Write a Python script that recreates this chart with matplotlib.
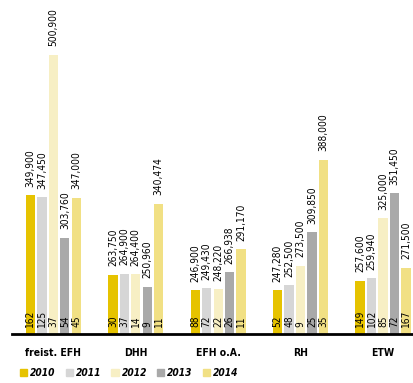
import numpy as np
import matplotlib.pyplot as plt
from matplotlib.patches import Patch

plt.rcParams['font.family'] = ['DejaVu Sans']
plt.rcParams['font.stretch'] = 'condensed'

# data
categories = ["freist. EFH", "DHH", "EFH o.A.", "RH", "ETW"]
years = ["2010", "2011", "2012", "2013", "2014"]
prices = {
    "2010": [349900, 263750, 246900, 247280, 257600],
    "2011": [347450, 264900, 249430, 252500, 259940],
    "2012": [500900, 264400, 248220, 273500, 325000],
    "2013": [303760, 250960, 266938, 309850, 351450],
    "2014": [347000, 340474, 291170, 388000, 271500],
}
counts = {
    "2010": [162, 30, 88, 52, 149],
    "2011": [125, 37, 72, 48, 102],
    "2012": [37, 14, 22, 9, 85],
    "2013": [54, 9, 26, 25, 72],
    "2014": [45, 11, 11, 35, 167],
}
colors = ["#E6C300", "#D6D6D6", "#F7EFC4", "#A9A9A9", "#F1E084"]

fig = plt.figure(figsize=(4.14, 3.83), dpi=100)
ax = fig.add_axes([0.03, 0.128, 0.97, 0.872])

base = 200000
x = np.arange(len(categories))
w = 0.113
step = 0.139

for i, yr in enumerate(years):
    pos = x + (i - 2) * step
    vals = np.array(prices[yr])
    ax.bar(pos, vals - base, bottom=base, width=w, color=colors[i])
    for p, v, c in zip(pos, vals, counts[yr]):
        ax.text(p, v + 9000, f"{v:,}", rotation=90, ha="center", va="bottom",
                fontsize=7.3)
        ax.text(p, base + 8000, str(c), rotation=90, ha="center", va="bottom",
                fontsize=7.3)

ax.set_xlim(-0.497, 4.376)
ax.set_ylim(base, 560000)
for s in ["top", "right", "left"]:
    ax.spines[s].set_visible(False)
ax.spines["bottom"].set_linewidth(2)
ax.set_yticks([])
ax.set_xticks(x)
ax.set_xticklabels(categories, fontsize=7.5, fontweight="bold")
ax.tick_params(axis="x", length=0, pad=10)

handles = [Patch(color=c, label=y) for c, y in zip(colors, years)]
fig.legend(handles=handles, loc="center left", bbox_to_anchor=(0.048, 0.026),
           ncol=5, frameon=False, handlelength=0.7, handleheight=0.7,
           handletextpad=0.3, columnspacing=1.0, borderaxespad=0, borderpad=0,
           prop={"size": 7.3, "style": "italic", "weight": "bold",
                 "stretch": "condensed"})

fig.savefig("out.png", dpi=100)
